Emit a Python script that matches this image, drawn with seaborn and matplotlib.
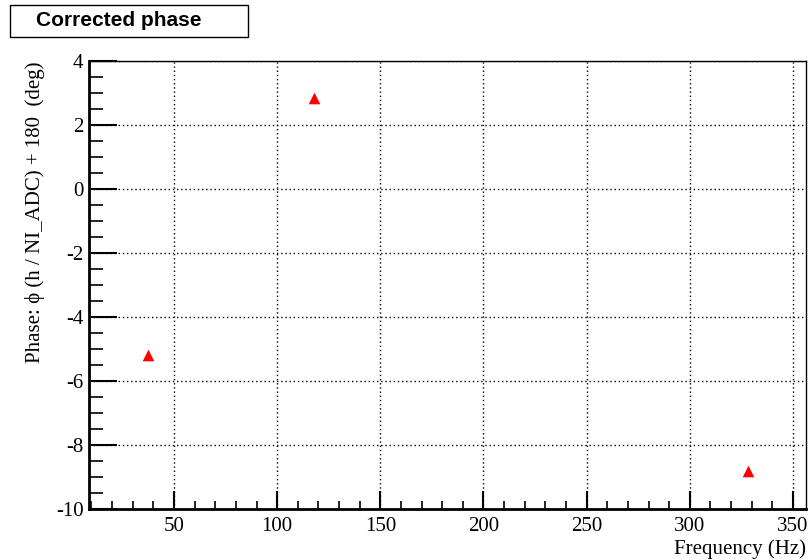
import numpy as np
import pandas as pd
import seaborn as sns
import matplotlib.pyplot as plt
from matplotlib.patches import Rectangle
from matplotlib.ticker import MultipleLocator

# corrected phase points
freq = [37.5, 118.0, 328.0]
phase = [-5.2, 2.85, -8.82]

df = pd.DataFrame({'freq': freq, 'phase': phase})

sns.set_style('white')
plt.rcParams['font.family'] = ['Liberation Serif', 'DejaVu Serif']
plt.rcParams['axes.unicode_minus'] = False
plt.rcParams['text.color'] = 'black'
plt.rcParams['axes.labelcolor'] = 'black'
plt.rcParams['xtick.color'] = 'black'
plt.rcParams['ytick.color'] = 'black'

fig = plt.figure(figsize=(8.1, 5.6), dpi=100)
ax = fig.add_axes([0.1099, 0.0911, 0.8851, 0.7999])

sns.scatterplot(data=df, x='freq', y='phase', marker='^', color='red',
                s=70, edgecolor='red', linewidth=0, ax=ax, zorder=5)

ax.set_xlim(8.8, 356.3)
ax.set_ylim(-10, 4)
ax.xaxis.set_major_locator(MultipleLocator(50))
ax.xaxis.set_minor_locator(MultipleLocator(10))
ax.yaxis.set_major_locator(MultipleLocator(2))
ax.yaxis.set_minor_locator(MultipleLocator(0.5))
ax.grid(True, which='major', color='black', linestyle=(0, (1, 2)), linewidth=1)

ax.tick_params(which='both', direction='in', bottom=True, left=True,
               top=False, right=False, color='black')
ax.tick_params(axis='y', which='major', length=20, width=1.5, labelsize=15, pad=4)
ax.tick_params(axis='y', which='minor', length=10, width=1.2)
ax.tick_params(axis='x', which='major', length=13, width=1.5, labelsize=15, pad=6)
ax.tick_params(axis='x', which='minor', length=6, width=1.2)
for s in ax.spines.values():
    s.set_color('black')
    s.set_linewidth(1)
ax.spines['left'].set_linewidth(2)
ax.spines['bottom'].set_linewidth(2)

ax.set_xlabel('Frequency (Hz)', fontsize=15, loc='right', labelpad=2)
ax.set_ylabel('Phase: ϕ (h / NI_ADC) + 180  (deg)', fontsize=15, loc='top', labelpad=8)

# title box
fig.patches.append(Rectangle((10 / 810, 1 - 37 / 560), 238 / 810, 32 / 560,
                             transform=fig.transFigure, fc='white', ec='black', lw=1))
fig.text(118.5 / 810, 1 - 21 / 560, 'Corrected phase', fontsize=15, fontweight='bold',
         family='Liberation Sans', ha='center', va='center')

fig.savefig('out.png', dpi=100)
